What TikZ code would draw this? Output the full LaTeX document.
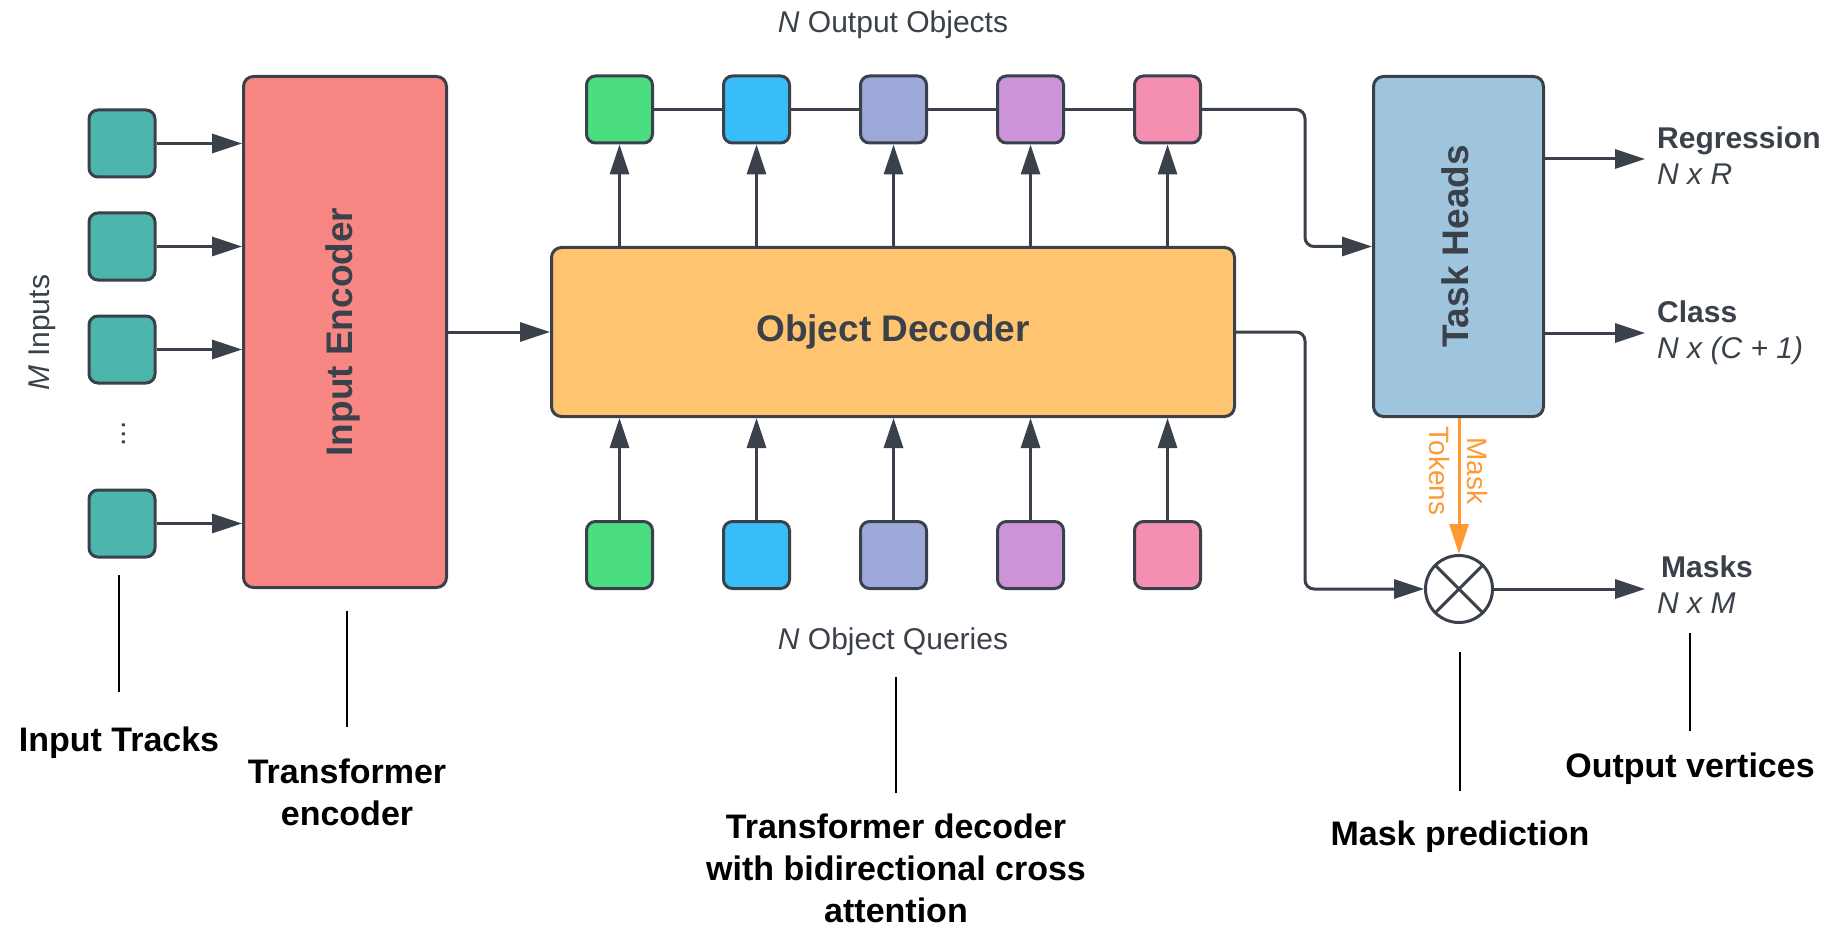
\documentclass[tikz,border=0pt]{standalone}
\usepackage{fontspec}
\setmainfont{Liberation Sans}
\usetikzlibrary{arrows.meta,calc}

\definecolor{ink}{HTML}{3A414A}
\definecolor{tealbox}{HTML}{4DB6AC}
\definecolor{encfill}{HTML}{F88784}
\definecolor{decfill}{HTML}{FFC470}
\definecolor{headfill}{HTML}{9EC5DD}
\definecolor{objA}{HTML}{4ADE80}
\definecolor{objB}{HTML}{38BDF8}
\definecolor{objC}{HTML}{9DA8DB}
\definecolor{objD}{HTML}{CC93D8}
\definecolor{objE}{HTML}{F48FB1}
\definecolor{masktok}{HTML}{FF9933}

\begin{document}
\begin{tikzpicture}[x=1pt,y=-1pt,
  box/.style={draw=ink, line width=3pt, rounded corners=10pt, inner sep=0pt},
  token/.style={box, minimum width=66pt, minimum height=67pt, rounded corners=9pt},
  link/.style={draw=ink, line width=3pt},
  flow/.style={link, -{Triangle[length=30pt,width=19pt]}},
  bigtitle/.style={font=\fontsize{37}{44}\selectfont\bfseries, text=ink, inner sep=0pt, anchor=base},
  headout/.style={font=\fontsize{30}{36}\selectfont\bfseries, text=ink, inner sep=0pt, anchor=base west},
  shapeout/.style={font=\fontsize{30}{36}\selectfont\itshape, text=ink, inner sep=0pt, anchor=base west},
  note/.style={font=\fontsize{30}{36}\selectfont, text=ink, inner sep=0pt, anchor=base},
  caption/.style={font=\fontsize{34}{42}\selectfont\bfseries, text=black, align=center, inner sep=0pt, anchor=base},
  pointer/.style={draw=black, line width=2pt}
]
\useasboundingbox (0,0) rectangle (1834,928);

% ---- input tracks ----
\node[token, fill=tealbox] (t1) at (122,143.5) {};
\node[token, fill=tealbox] (t2) at (122,246.5) {};
\node[token, fill=tealbox] (t3) at (122,349.5) {};
\node[token, fill=tealbox] (t4) at (122,523.5) {};
\node[font=\fontsize{30}{36}\selectfont, text=ink, inner sep=0pt, rotate=90, anchor=base] (tdots) at (125,434) {...};
\node[note, rotate=90] (minputs) at (49,332.5) {\textit{M} Inputs};

% ---- encoder ----
\node[box, fill=encfill, minimum width=203pt, minimum height=511pt] (enc) at (345,332) {};
\node[bigtitle, rotate=90] (encLabel) at (352,332) {Input Encoder};

\foreach \t in {t1,t2,t3,t4}
  \draw[flow] (\t.east) -- (\t.east -| enc.west);

% ---- decoder ----
\node[box, fill=decfill, minimum width=683pt, minimum height=169pt] (dec) at (893,332) {};
\node[bigtitle] (decLabel) at (893,341) {Object Decoder};
\draw[flow] (enc.east) -- (dec.west);

% ---- object queries and outputs ----
\foreach \i/\c/\x in {1/objA/619.5, 2/objB/756.5, 3/objC/893.5, 4/objD/1030.5, 5/objE/1167.5} {
  \node[token, fill=\c] (o\i) at (\x,109.5) {};
  \node[token, fill=\c] (q\i) at (\x,555) {};
  \draw[flow] (dec.north -| o\i) -- (o\i.south);
  \draw[flow] (q\i.north) -- (q\i.north |- dec.south);
}
\draw[link] (o1) -- (o2) (o2) -- (o3) (o3) -- (o4) (o4) -- (o5);
\node[note] (outLabel) at (893,33) {\textit{N} Output Objects};
\node[note] (queryLabel) at (893,649) {\textit{N} Object Queries};

% ---- task heads ----
\node[box, fill=headfill, minimum width=170pt, minimum height=340pt] (th) at (1458.5,246.5) {};
\node[bigtitle, rotate=90] (thLabel) at (1468,246.5) {Task Heads};

\coordinate (bend) at (1305,0);
\draw[flow, rounded corners=9pt] (o5.east) -- (o5.east -| bend) -- (bend |- th.west) -- (th.west);

% ---- mask product ----
\node[circle, draw=ink, line width=3pt, minimum size=67pt, inner sep=0pt] (mul) at (1459,589) {};
\draw[ink, line width=3pt] (mul.north west) -- (mul.south east) (mul.north east) -- (mul.south west);
\draw[flow, rounded corners=9pt] (dec.east) -- (dec.east -| bend) -- (bend |- mul.west) -- (mul.west);
\draw[draw=masktok, line width=3pt, -{Triangle[length=30pt,width=19pt]}] (th.south -| mul) -- (mul.north);
\node[font=\fontsize{28}{38}\selectfont, text=masktok, align=center, inner sep=0pt, rotate=-90] (tokLabel) at (1458.5,471) {Mask\\Tokens};

% ---- outputs ----
\coordinate (outEnd) at (1645,0);
\draw[flow] (th.east |- 0,159) -- (outEnd |- 0,159);
\draw[flow] (th.east |- 0,333) -- (outEnd |- 0,333);
\draw[flow] (mul.east) -- (mul.east -| outEnd);
\node[headout] (regLabel) at (1657,149) {Regression};
\node[shapeout] (regShape) at (1657,185) {N x R};
\node[headout] (clsLabel) at (1657,322) {Class};
\node[shapeout] (clsShape) at (1657,358) {N x (C + 1)};
\node[headout] (maskLabel) at (1661,577) {Masks};
\node[shapeout] (maskShape) at (1657,613) {N x M};

% ---- stage captions (base = baseline of the last line) ----
\node[caption] (capTracks) at (119,751) {Input Tracks};
\node[caption] (capEnc) at (347,825) {Transformer\\encoder};
\node[caption] (capDec) at (896,922) {Transformer decoder\\with bidirectional cross\\attention};
\node[caption] (capMask) at (1460,845) {Mask prediction};
\node[caption] (capOut) at (1690,777) {Output vertices};

\coordinate (pA1) at (119,575);   \coordinate (pA2) at (119,692);
\coordinate (pB1) at (347,611);   \coordinate (pB2) at (347,727);
\coordinate (pC1) at (896,677);   \coordinate (pC2) at (896,793);
\coordinate (pD1) at (1459.5,652); \coordinate (pD2) at (1459.5,791);
\coordinate (pE1) at (1690,633);  \coordinate (pE2) at (1690,731);
\draw[pointer] (pA1) -- (pA2);
\draw[pointer] (pB1) -- (pB2);
\draw[pointer] (pC1) -- (pC2);
\draw[pointer] (pD1) -- (pD2);
\draw[pointer] (pE1) -- (pE2);
\end{tikzpicture}
\end{document}
